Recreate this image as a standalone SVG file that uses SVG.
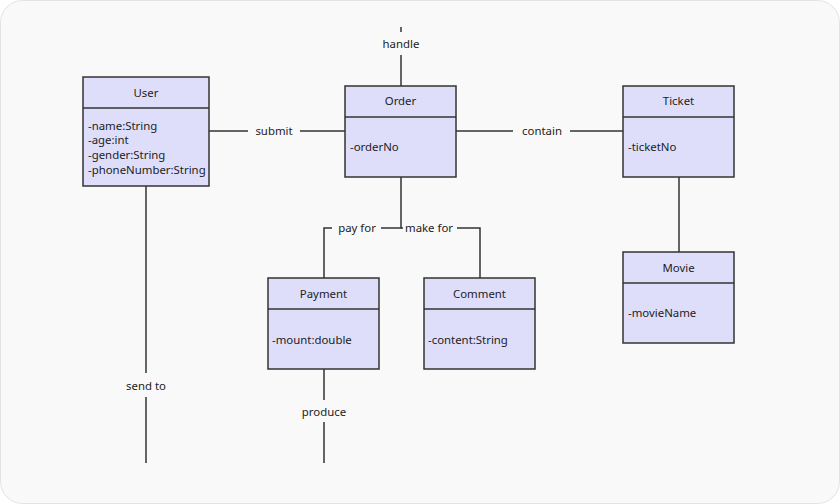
<svg xmlns="http://www.w3.org/2000/svg" width="840" height="504" viewBox="0 0 840 504">
<style>
.bg{fill:#f9f9f9;stroke:#e3e3e3;stroke-width:1}
.box{fill:#dedefb;stroke:#333;stroke-width:1.5}
.div{stroke:#333;stroke-width:1.5}
.ln{fill:none;stroke:#333;stroke-width:1.5}
.lb{fill:#f9f9f9}
text{font-family:"Noto Sans","Open Sans","Liberation Sans",sans-serif;font-size:11.4px;fill:#222}
.c{text-anchor:middle}
</style>
<rect class="bg" x="0.5" y="0.5" width="839" height="503" rx="22"/>
<g id="connectors">
<line class="ln" x1="209" y1="131" x2="345" y2="131"/>
<rect class="lb" x="248" y="122" width="52" height="18"/>
<text class="c" x="274" y="135">submit</text>
<line class="ln" x1="456" y1="131" x2="623" y2="131"/>
<rect class="lb" x="513" y="122" width="57" height="18"/>
<text class="c" x="542" y="135">contain</text>
<line class="ln" x1="401" y1="27" x2="401" y2="86"/>
<rect class="lb" x="378" y="32" width="46" height="23"/>
<text class="c" x="401" y="48">handle</text>
<line class="ln" x1="679" y1="177" x2="679" y2="252"/>
<polyline class="ln" points="401,177 401,228 324,228 324,278"/>
<rect class="lb" x="332" y="219" width="49" height="18"/>
<text class="c" x="357" y="232">pay for</text>
<polyline class="ln" points="401,228 480,228 480,278"/>
<rect class="lb" x="403" y="219" width="54" height="18"/>
<text class="c" x="429" y="232">make for</text>
<line class="ln" x1="146" y1="186" x2="146" y2="463"/>
<rect class="lb" x="120" y="373" width="52" height="24"/>
<text class="c" x="146" y="390">send to</text>
<line class="ln" x1="324" y1="369" x2="324" y2="463"/>
<rect class="lb" x="298" y="400" width="52" height="22"/>
<text class="c" x="324" y="416">produce</text>
</g>
<g id="User">
<rect class="box" x="83" y="77" width="126" height="109"/>
<line class="div" x1="83" y1="108" x2="209" y2="108"/>
<text class="c" x="146" y="97">User</text>
<text x="88" y="130">-name:String</text>
<text x="88" y="144">-age:int</text>
<text x="88" y="159">-gender:String</text>
<text x="88" y="174">-phoneNumber:String</text>
</g>
<g id="Order">
<rect class="box" x="345" y="86" width="111" height="91"/>
<line class="div" x1="345" y1="117" x2="456" y2="117"/>
<text class="c" x="400.5" y="105">Order</text>
<text x="350" y="151">-orderNo</text>
</g>
<g id="Ticket">
<rect class="box" x="623" y="86" width="111" height="91"/>
<line class="div" x1="623" y1="117" x2="734" y2="117"/>
<text class="c" x="678.5" y="105">Ticket</text>
<text x="628" y="151">-ticketNo</text>
</g>
<g id="Movie">
<rect class="box" x="623" y="252" width="111" height="91"/>
<line class="div" x1="623" y1="283" x2="734" y2="283"/>
<text class="c" x="678.5" y="272">Movie</text>
<text x="628" y="317">-movieName</text>
</g>
<g id="Payment">
<rect class="box" x="268" y="278" width="111" height="91"/>
<line class="div" x1="268" y1="309" x2="379" y2="309"/>
<text class="c" x="323.5" y="298">Payment</text>
<text x="272" y="344">-mount:double</text>
</g>
<g id="Comment">
<rect class="box" x="424" y="278" width="111" height="91"/>
<line class="div" x1="424" y1="309" x2="535" y2="309"/>
<text class="c" x="479.5" y="298">Comment</text>
<text x="428" y="344">-content:String</text>
</g>
</svg>
